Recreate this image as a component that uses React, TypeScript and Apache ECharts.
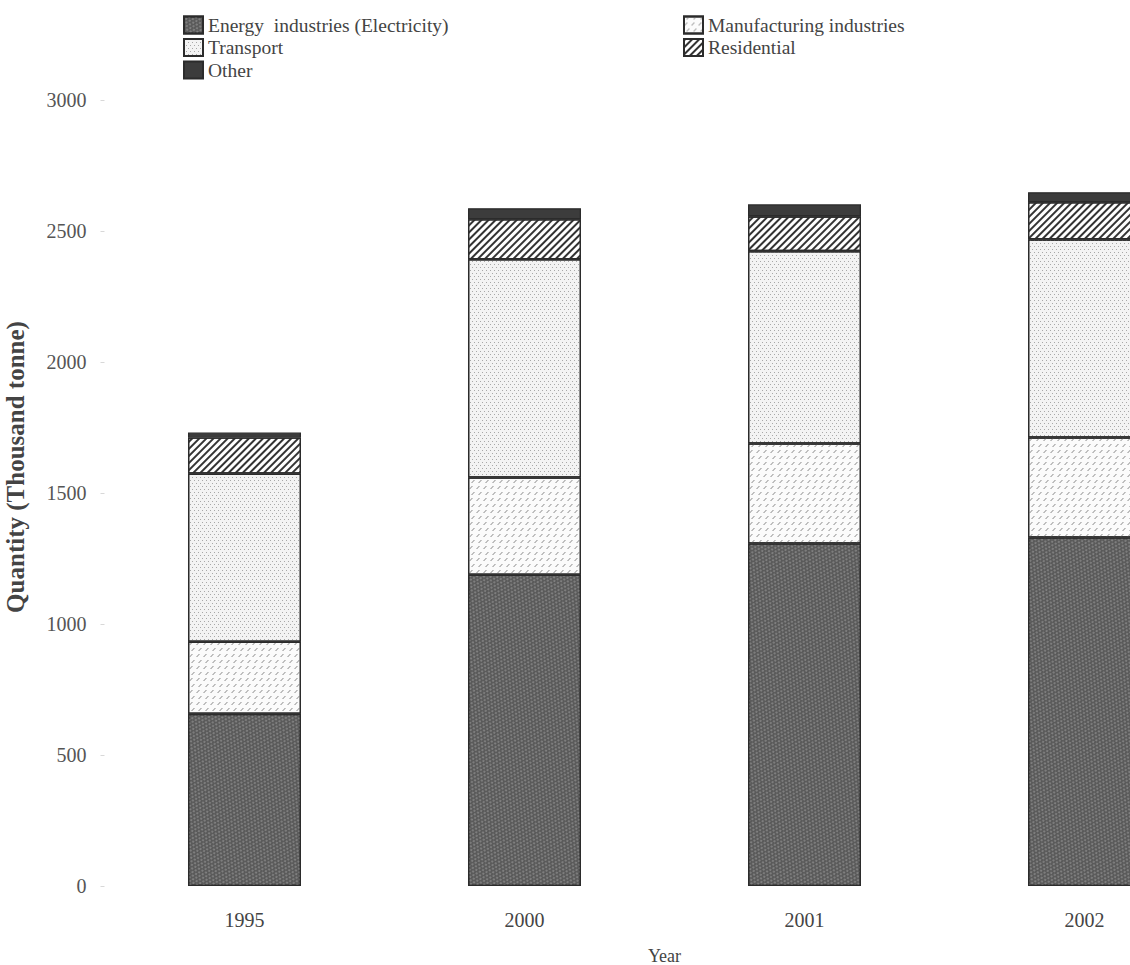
import React, { useEffect, useRef } from "react";
import * as echarts from "echarts";

const categories = ["1995", "2000", "2001", "2002"];
const energy = [657, 1188, 1307, 1330];
const manufacturing = [275, 371, 382, 382];
const transport = [642, 833, 734, 756];
const residential = [138, 153, 133, 142];
const other = [19, 42, 46, 38];
const yTicks = [0, 500, 1000, 1500, 2000, 2500, 3000];

const SERIF = "'Liberation Serif', 'Times New Roman', serif";

export default function App() {
  const ref = useRef<HTMLDivElement>(null);
  useEffect(() => {
    if (!ref.current) return;
    const chart = echarts.init(ref.current, null, { renderer: "svg" });
    const border = { borderColor: "#2b2b2b", borderWidth: 1.3 };
    const mk = (name: string, data: number[], itemStyle: any) => ({
      name,
      type: "bar",
      stack: "total",
      barWidth: 113,
      data,
      itemStyle: { ...border, ...itemStyle },
      emphasis: { disabled: true },
    });
    const legendText = { fontFamily: SERIF, fontSize: 19.5, color: "#444" };
    chart.setOption({
      animation: false,
      backgroundColor: "#ffffff",
      textStyle: { fontFamily: SERIF },
      legend: [
        {
          orient: "vertical",
          left: 183,
          top: 15,
          icon: "rect",
          itemWidth: 19,
          itemHeight: 17,
          itemGap: 2.5,
          padding: 0,
          selectedMode: false,
          data: ["Energy  industries (Electricity)", "Transport", "Other"],
          textStyle: legendText,
        },
        {
          orient: "vertical",
          left: 683,
          top: 15,
          icon: "rect",
          itemWidth: 19,
          itemHeight: 17,
          itemGap: 2.5,
          padding: 0,
          selectedMode: false,
          data: ["Manufacturing industries", "Residential"],
          textStyle: legendText,
        },
      ],
      grid: {
        left: 104.5,
        right: 0.5,
        top: 100,
        bottom: 79,
        containLabel: false,
        outerBoundsMode: "none",
      },
      xAxis: {
        type: "category",
        data: categories,
        axisLine: { show: false },
        axisTick: { show: false },
        axisLabel: { fontFamily: SERIF, fontSize: 20, color: "#444", margin: 24 },
        name: "Year",
        nameLocation: "middle",
        nameGap: 61,
        nameTextStyle: { fontFamily: SERIF, fontSize: 18, color: "#444" },
      },
      yAxis: {
        type: "value",
        min: yTicks[0],
        max: yTicks[yTicks.length - 1],
        interval: 500,
        axisLine: { show: false },
        axisTick: { show: true, length: 4, lineStyle: { color: "#d8d8d8" } },
        splitLine: { show: false },
        axisLabel: {
          fontFamily: SERIF,
          fontSize: 20,
          color: "#555",
          margin: 18,
          formatter: (v: number) => String(v),
        },
        name: "Quantity (Thousand tonne)",
        nameLocation: "middle",
        nameGap: 77,
        nameTextStyle: {
          fontFamily: SERIF,
          fontSize: 25,
          fontWeight: "bold",
          color: "#444",
          padding: [0, 0, 0, 52],
        },
      },
      series: [
        mk("Energy  industries (Electricity)", energy, {
          color: "#5a5a5a",
          decal: {
            symbol: "circle",
            symbolSize: 0.9,
            color: "rgba(170,170,170,0.6)",
            dashArrayX: [[2, 2], [0, 2, 2, 0]],
            dashArrayY: [2, 1],
            rotation: 0.5,
          },
        }),
        mk("Manufacturing industries", manufacturing, {
          color: "#fbfbfb",
          decal: {
            symbol: "path://M0,10L3,10L10,0L7,0Z",
            symbolSize: 1,
            symbolKeepAspect: false,
            color: "#9a9a9a",
            dashArrayX: [[4, 3], [0, 2, 4, 1]],
            dashArrayY: [3, 3],
          },
        }),
        mk("Transport", transport, {
          color: "#f3f3f3",
          decal: {
            symbol: "rect",
            symbolSize: 1,
            color: "#a8a8a8",
            dashArrayX: [[1, 3], [0, 2, 1, 1]],
            dashArrayY: [1, 2],
          },
        }),
        mk("Residential", residential, {
          color: "#ffffff",
          decal: {
            symbol: "rect",
            symbolSize: 1,
            color: "#333333",
            dashArrayX: [[1, 0]],
            dashArrayY: [2, 3],
            rotation: -Math.PI / 4,
          },
        }),
        mk("Other", other, {
          color: "#3c3c3c",
          decal: "none",
        }),
      ],
    });
    return () => chart.dispose();
  }, []);
  return (
    <div
      style={{
        position: "fixed",
        left: 0,
        top: 0,
        width: 1130,
        height: 965,
        overflow: "hidden",
        background: "#fff",
      }}
    >
      <div ref={ref} style={{ width: 1225, height: 965 }} />
    </div>
  );
}
